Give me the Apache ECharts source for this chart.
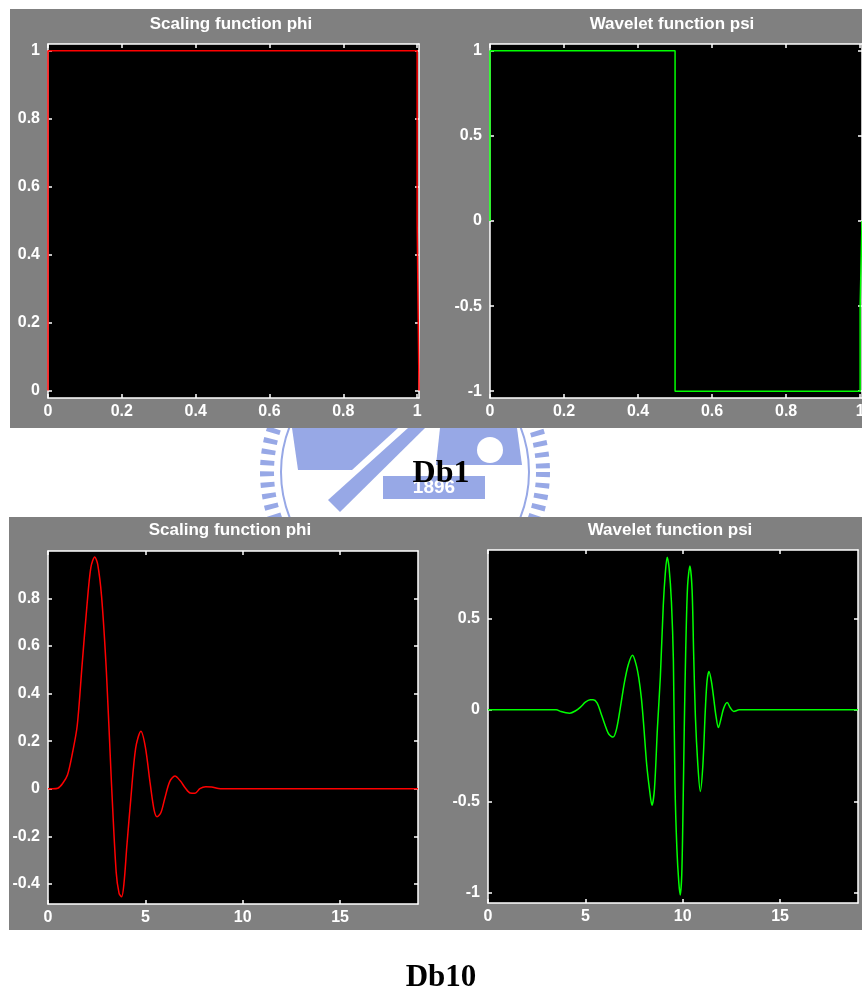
<!DOCTYPE html>
<html><head><meta charset="utf-8">
<script src="https://cdn.jsdelivr.net/npm/echarts@6/dist/echarts.min.js"></script>
<style>html,body{margin:0;padding:0;background:#fff}#c{width:862px;height:992px}</style>
</head><body><div id="c"></div>
<script>
// ---- data ----
const db1PhiX = [0, 0, 1, 1, 1.005, 1.005];
const db1PhiY = [0, 1, 1, 0.5, 0.5, 0];
const db1PsiX = [0, 0, 0.5, 0.5, 1, 1, 1.005, 1.005];
const db1PsiY = [0, 1, 1, -1, -1, -0.5, -0.5, 0];

const db10PhiX = [0, 0.25, 0.5, 0.75, 1.0, 1.25, 1.5, 1.75, 2.0, 2.2,
  2.4, 2.55, 2.75, 3.0, 3.25, 3.5, 3.65, 3.78, 3.9, 4.05,
  4.25, 4.5, 4.77, 5.0, 5.25, 5.45, 5.6, 5.8, 6.0, 6.25,
  6.52, 6.8, 7.05, 7.3, 7.55, 7.8, 8.1, 8.4, 8.75, 9.0, 19.0];
const db10PhiY = [0, 0, 0.002, 0.022, 0.058, 0.148, 0.265, 0.52, 0.77, 0.93,
  0.975, 0.945, 0.81, 0.49, 0.04, -0.35, -0.44, -0.455, -0.40, -0.24,
  -0.045, 0.17, 0.242, 0.175, 0.02, -0.09, -0.118, -0.1, -0.04, 0.03,
  0.053, 0.032, 0.003, -0.018, -0.019, 0.0, 0.008, 0.007, 0.001, 0, 0];

const db10PsiX = [0, 3.5, 3.75, 4.0, 4.2, 4.5, 4.75, 5.0, 5.25, 5.4,
  5.6, 5.8, 6.0, 6.2, 6.42, 6.6, 6.8, 7.0, 7.2, 7.42,
  7.6, 7.75, 7.88, 8.0, 8.15, 8.3, 8.42, 8.55, 8.7, 8.85,
  9.0, 9.1, 9.2, 9.3, 9.42, 9.52, 9.6, 9.7, 9.8, 9.87,
  9.95, 10.02, 10.08, 10.15, 10.25, 10.37, 10.48, 10.56, 10.65, 10.77,
  10.9, 11.03, 11.16, 11.25, 11.35, 11.48, 11.6, 11.71, 11.83, 11.97,
  12.1, 12.28, 12.45, 12.62, 12.9, 19];
const db10PsiY = [0, 0, -0.009, -0.016, -0.018, -0.005, 0.015, 0.042, 0.055, 0.055,
  0.038, -0.018, -0.08, -0.132, -0.149, -0.105, 0.015, 0.146, 0.245, 0.298,
  0.25, 0.17, 0.06, -0.09, -0.3, -0.44, -0.522, -0.43, -0.1, 0.18,
  0.57, 0.74, 0.835, 0.775, 0.59, 0.27, -0.4, -0.76, -0.947, -1.012,
  -0.9, -0.51, -0.09, 0.31, 0.68, 0.787, 0.656, 0.31, -0.036, -0.291,
  -0.446, -0.31, 0, 0.16, 0.21, 0.15, 0.055, -0.036, -0.097, -0.046,
  0.008, 0.04, 0.01, -0.009, 0, 0];

const db1XTicks = [0, 0.2, 0.4, 0.6, 0.8, 1];
const db1PhiYTicks = [0, 0.2, 0.4, 0.6, 0.8, 1];
const db1PsiYTicks = [-1, -0.5, 0, 0.5, 1];
const db10XTicks = [0, 5, 10, 15];
const db10PhiYTicks = [-0.4, -0.2, 0, 0.2, 0.4, 0.6, 0.8];
const db10PsiYTicks = [-1, -0.5, 0, 0.5];

const panelTitles = ['Scaling function phi', 'Wavelet function psi', 'Scaling function phi', 'Wavelet function psi'];
const figureLabels = ['Db1', 'Db10'];

// ---- layout / style ----
const zip = (xs, ys) => xs.map((x, i) => [x, ys[i]]);
const FONT = '"Liberation Sans", Arial, sans-serif';
const grids = [
  {left: 48, top: 44, width: 371, height: 354},
  {left: 490, top: 44, width: 372, height: 354},
  {left: 48, top: 551, width: 370, height: 353},
  {left: 488, top: 550, width: 370, height: 353}
];
const panels = [
  {xMin: 0, xMax: 1.005, yMin: -0.022, yMax: 1.02, xt: db1XTicks, yt: db1PhiYTicks},
  {xMin: 0, xMax: 1.005, yMin: -1.04, yMax: 1.04, xt: db1XTicks, yt: db1PsiYTicks},
  {xMin: 0, xMax: 19, yMin: -0.485, yMax: 1.0, xt: db10XTicks, yt: db10PhiYTicks},
  {xMin: 0, xMax: 19, yMin: -1.056, yMax: 0.874, xt: db10XTicks, yt: db10PsiYTicks}
];
const lineW = {color: '#ffffff', width: 1.5};
function mkAxis(dim, gi, pos, p, showLabel) {
  const isX = dim === 'x';
  const ticks = isX ? p.xt : p.yt;
  return {
    type: 'value', gridIndex: gi, position: pos,
    min: isX ? p.xMin : p.yMin, max: isX ? p.xMax : p.yMax,
    axisLine: {show: true, onZero: false, lineStyle: lineW},
    axisTick: {show: true, inside: true, length: 4, customValues: ticks, lineStyle: {color: '#fff', width: 1.5}},
    axisLabel: {show: showLabel, customValues: ticks, color: '#fff', fontWeight: 'bold', fontSize: 16,
      fontFamily: FONT, margin: isX ? 6 : 8, hideOverlap: false},
    splitLine: {show: false}
  };
}
const xAxes = [], yAxes = [];
panels.forEach((p, i) => {
  xAxes.push(mkAxis('x', i, 'bottom', p, true));
  xAxes.push(mkAxis('x', i, 'top', p, false));
  yAxes.push(mkAxis('y', i, 'left', p, true));
  yAxes.push(mkAxis('y', i, 'right', p, false));
});
const seriesData = [
  {d: zip(db1PhiX, db1PhiY), c: '#ff0000', s: false},
  {d: zip(db1PsiX, db1PsiY), c: '#00ff00', s: false},
  {d: zip(db10PhiX, db10PhiY), c: '#ff0000', s: 0.3},
  {d: zip(db10PsiX, db10PsiY), c: '#00ff00', s: 0.3}
];
const series = seriesData.map((o, i) => ({
  type: 'line', xAxisIndex: 2 * i, yAxisIndex: 2 * i, data: o.d, smooth: o.s,
  showSymbol: false, symbol: 'none', clip: true, animation: false,
  lineStyle: {color: o.c, width: 1.5}
}));

const WM = '#97a8e6';
const titlePos = [[231, 24.5], [672, 24.5], [230, 530.5], [670, 530.5]];
const graphic = [
  // watermark (behind panels)
  {type: 'circle', z: -5, shape: {cx: 405, cy: 472, r: 138}, style: {fill: null, stroke: WM, lineWidth: 14, lineDash: [5, 6]}},
  {type: 'circle', z: -5, shape: {cx: 405, cy: 472, r: 124}, style: {fill: null, stroke: WM, lineWidth: 2}},
  {type: 'polygon', z: -5, shape: {points: [[292, 428], [398, 428], [352, 470], [298, 470]]}, style: {fill: WM}},
  {type: 'polygon', z: -5, shape: {points: [[440, 428], [517, 428], [522, 465], [436, 465]]}, style: {fill: WM}},
  {type: 'circle', z: -5, shape: {cx: 490, cy: 450, r: 13}, style: {fill: '#ffffff'}},
  {type: 'polygon', z: -5, shape: {points: [[408, 428], [425, 428], [340, 512], [328, 500]]}, style: {fill: WM}},
  {type: 'rect', z: -5, shape: {x: 383, y: 476, width: 102, height: 23}, style: {fill: WM}},
  {type: 'text', z: -5, style: {text: '1896', x: 434, y: 488, align: 'center', verticalAlign: 'middle', fill: '#ffffff', font: 'bold 19px ' + FONT}},
  // gray figure backgrounds
  {type: 'rect', z: -1, shape: {x: 10, y: 9, width: 852, height: 419}, style: {fill: '#808080'}},
  {type: 'rect', z: -1, shape: {x: 9, y: 517, width: 853, height: 413}, style: {fill: '#808080'}},
  // panel titles
  ...panelTitles.map((t, i) => ({type: 'text', z: 10, style: {text: t, x: titlePos[i][0], y: titlePos[i][1], align: 'center', verticalAlign: 'middle', fill: '#ffffff', font: 'bold 17px ' + FONT}})),
  // figure labels
  {type: 'text', z: 10, style: {text: figureLabels[0], x: 441, y: 473.5, align: 'center', verticalAlign: 'middle', fill: '#000000', font: 'bold 32px "Liberation Serif", "Times New Roman", serif'}},
  {type: 'text', z: 10, style: {text: figureLabels[1], x: 441, y: 977.5, align: 'center', verticalAlign: 'middle', fill: '#000000', font: 'bold 31px "Liberation Serif", "Times New Roman", serif'}}
];

const chart = echarts.init(document.getElementById('c'), null, {renderer: 'canvas'});
chart.setOption({
  animation: false,
  backgroundColor: '#ffffff',
  grid: grids.map(g => Object.assign({show: true, backgroundColor: '#000000', borderWidth: 0, containLabel: false, outerBoundsMode: 'none'}, g)),
  xAxis: xAxes, yAxis: yAxes, series, graphic
});
</script></body></html>
